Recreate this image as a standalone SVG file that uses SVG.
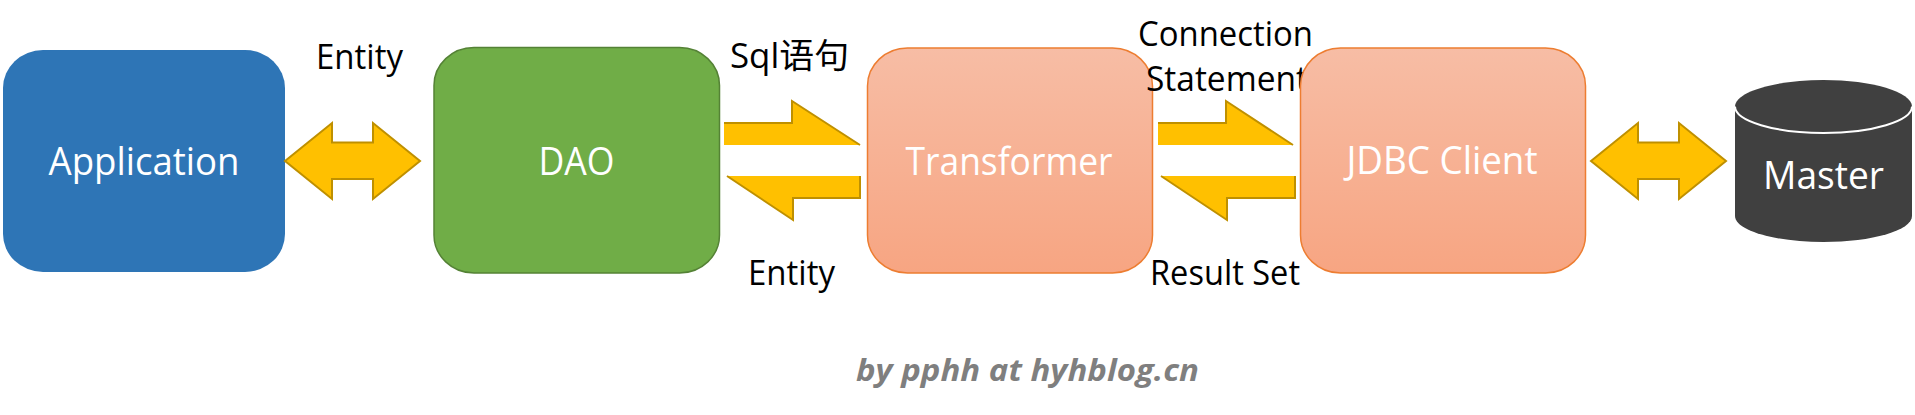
<svg xmlns="http://www.w3.org/2000/svg" width="1915" height="415" viewBox="0 0 1915 415">
<style>
text{font-family:"Open Sans","Noto Sans","Noto Sans CJK SC",sans-serif}
.n{font-size:38px;fill:#fff;text-anchor:middle}
.l{font-size:34px;fill:#000}
.f{fill:#ffc000;stroke:none}
.s{fill:none;stroke:#bf9000;stroke-width:2}
.d{fill:#ffc000;stroke:#bf9000;stroke-width:2;stroke-miterlimit:3}
.o{fill:url(#o);stroke:#ed7d31;stroke-width:1.5}
</style>
<defs>
<linearGradient id="o" x1="0" y1="0" x2="0" y2="1"><stop offset="0" stop-color="#f7bda5"/><stop offset="1" stop-color="#f7a582"/></linearGradient>
</defs>
<rect width="1915" height="415" fill="#fff"/>
<g id="application"><rect x="3" y="50" width="282" height="222" rx="40" ry="38" fill="#2e75b6"/><text class="n" x="144" y="175" textLength="191" lengthAdjust="spacingAndGlyphs">Application</text></g>
<g id="dao"><rect x="434" y="47.500" width="285.500" height="225.500" rx="40" ry="38" fill="#70ad47" stroke="#548235" stroke-width="1.500"/><text class="n" x="576.500" y="175" textLength="76" lengthAdjust="spacingAndGlyphs">DAO</text></g>
<g id="transformer"><rect class="o" x="867.500" y="48" width="285" height="225"  rx="40" ry="38"/><text class="n" x="1009" y="175" textLength="207" lengthAdjust="spacingAndGlyphs">Transformer</text></g>
<g id="labels">
<text class="l" x="316" y="69" textLength="87" lengthAdjust="spacingAndGlyphs">Entity</text>
<text class="l" x="730" y="68" textLength="119" lengthAdjust="spacingAndGlyphs">Sql语句</text>
<text class="l" x="748" y="285" textLength="87" lengthAdjust="spacingAndGlyphs">Entity</text>
<text class="l" x="1138" y="46" textLength="175" lengthAdjust="spacingAndGlyphs">Connection</text>
<text class="l" x="1146" y="91" textLength="162" lengthAdjust="spacingAndGlyphs">Statement</text>
<text class="l" x="1150" y="285" textLength="150" lengthAdjust="spacingAndGlyphs">Result Set</text>
</g>
<g id="jdbc-client"><rect class="o" x="1300.500" y="48" width="285" height="225" rx="40" ry="38"/><text class="n" x="1442" y="174" textLength="191" lengthAdjust="spacingAndGlyphs">JDBC Client</text></g>
<g id="master">
<path d="M1735 106.500C1735 92 1775 80 1823.500 80S1912 92 1912 106.500V216C1912 230.500 1872 242 1823.500 242S1735 230.500 1735 216Z" fill="#404040"/>
<path d="M1735 106.500C1735 121 1775 133 1823.500 133S1912 121 1912 106.500" fill="none" stroke="#fff" stroke-width="2"/>
<text class="n" x="1823.500" y="189" textLength="121" lengthAdjust="spacingAndGlyphs">Master</text>
</g>
<g id="connectors">
<path class="d" d="M285 161L332 123V142.500H373V123L420 161L373 199V179H332V199Z"/>
<path class="d" d="M1591 161L1638 123V142.500H1679V123L1726 161L1679 199V179H1638V199Z"/>
<path class="f" d="M724 123H792V101L860 145H724Z"/><path class="s" d="M724 123H792V101L860 145"/>
<path class="f" d="M860 176V198H793V220L727 176Z"/><path class="s" d="M727 176L793 220V198H860V176"/>
<path class="f" d="M1158 123H1226V101L1293 145H1158Z"/><path class="s" d="M1158 123H1226V101L1293 145"/>
<path class="f" d="M1295 176V198H1227V220L1161 176Z"/><path class="s" d="M1161 176L1227 220V198H1295V176"/>
</g>
<text id="credit" x="856" y="381" font-size="31" font-weight="700" font-style="italic" fill="#7f7f7f" textLength="343" lengthAdjust="spacingAndGlyphs">by pphh at hyhblog.cn</text>
</svg>
